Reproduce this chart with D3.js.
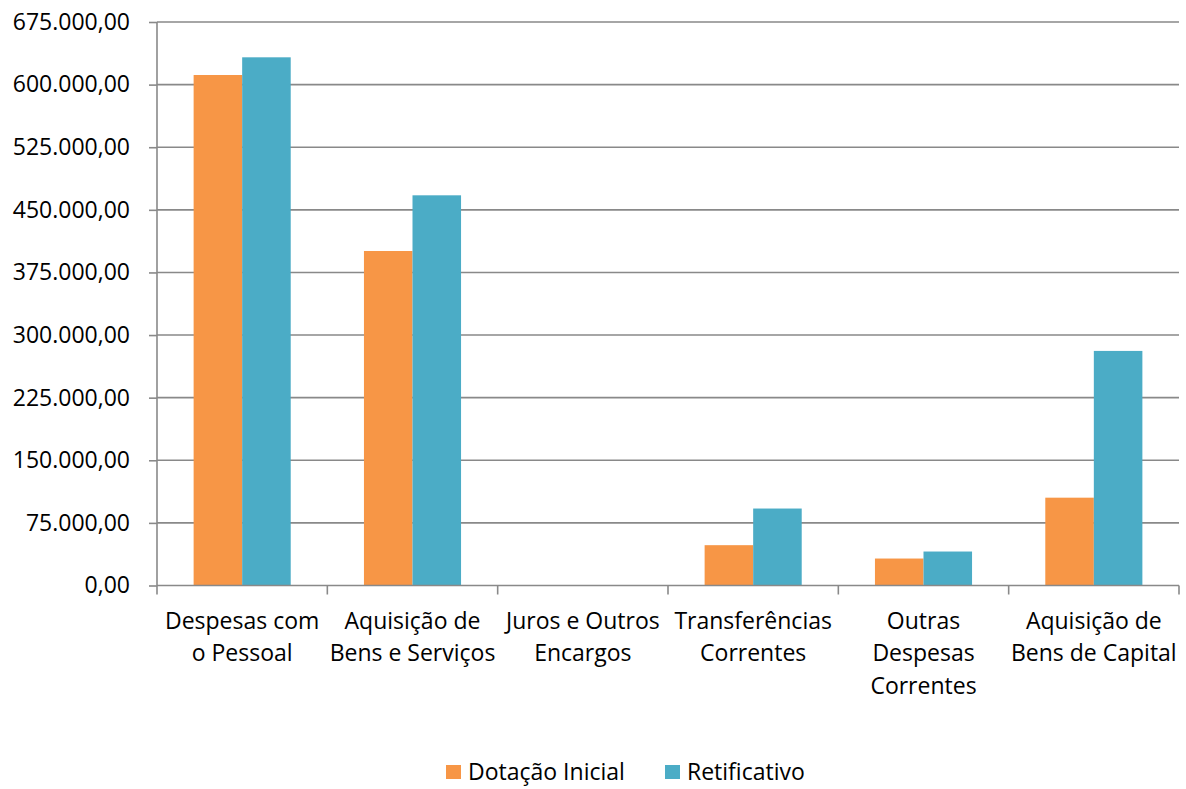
<!DOCTYPE html>
<html>
<head>
<meta charset="utf-8">
<script src="https://cdn.jsdelivr.net/npm/d3@7"></script>
<style>
body { margin: 0; background: #fff; }
text { font-family: "Open Sans", sans-serif; fill: #000; }
</style>
</head>
<body>
<svg id="svg0" width="1186" height="789"></svg>
<script>
var categories = ['Despesas com o Pessoal', 'Aquisição de Bens e Serviços', 'Juros e Outros Encargos',
  'Transferências Correntes', 'Outras Despesas Correntes', 'Aquisição de Bens de Capital'];
var series = ['Dotação Inicial', 'Retificativo'];
var dotacao = [611500, 400700, 0, 48300, 32300, 105200];
var retificativo = [632700, 467400, 0, 92200, 40700, 281000];
var y_ticks = [0, 75000, 150000, 225000, 300000, 375000, 450000, 525000, 600000, 675000];
var colors = ['#F79646', '#4BACC6'];

var svg0 = d3.select('#svg0');
var left = 157, right = 1179, top_y = 22, bottom_y = 585.5;
var grid_col = '#898989';
var font_size = 23;

var pt = d3.formatLocale({decimal: ',', thousands: '.', grouping: [3], currency: ['', '']});
var fmt = pt.format(',.2f');

var x0 = d3.scaleBand().domain(categories).range([left, right]).padding(0);
var x1 = d3.scaleBand().domain(series).range([x0.bandwidth()*0.215, x0.bandwidth()*0.785]).padding(0);
var y = d3.scaleLinear().domain([0, 675000]).range([bottom_y, top_y]);

// gridlines
svg0.append('g').selectAll('line').data(y_ticks.filter(d => d > 0)).enter().append('line')
  .attr('x1', left).attr('x2', right).attr('y1', d => y(d)).attr('y2', d => y(d))
  .attr('stroke', grid_col).attr('stroke-width', 1.6);

// bars
var rows = categories.map((c, i) => ({cat: c, vals: [dotacao[i], retificativo[i]]}));
var groups = svg0.append('g').selectAll('g').data(rows).enter().append('g')
  .attr('transform', d => 'translate(' + x0(d.cat) + ',0)');
groups.selectAll('rect').data(d => d.vals.map((v, j) => ({key: series[j], v: v, j: j}))).enter()
  .filter(d => d.v > 0)
  .append('rect')
  .attr('x', d => x1(d.key)).attr('width', x1.bandwidth())
  .attr('y', d => y(d.v)).attr('height', d => y(0) - y(d.v))
  .attr('fill', d => colors[d.j]);

// y axis
var yAxis = d3.axisLeft(y).tickValues(y_ticks).tickFormat(fmt).tickSize(8).tickPadding(19);
var yg = svg0.append('g').attr('transform', 'translate(' + left + ',0)').call(yAxis);
yg.select('.domain').attr('stroke', grid_col).attr('stroke-width', 1.6).attr('d', 'M0,' + top_y + 'V' + bottom_y);
yg.selectAll('.tick line').attr('stroke', grid_col).attr('stroke-width', 1.6);
yg.selectAll('.tick text').attr('font-size', font_size).attr('font-family', '"Open Sans", sans-serif').attr('fill', '#000');

// x axis
var xg = svg0.append('g').attr('transform', 'translate(0,' + bottom_y + ')');
xg.append('line').attr('x1', left).attr('x2', right).attr('stroke', grid_col).attr('stroke-width', 1.6);
var x_ticks = categories.map(c => x0(c)).concat([right]);
xg.selectAll('.xt').data(x_ticks).enter().append('line').attr('class', 'xt')
  .attr('x1', d => d).attr('x2', d => d).attr('y1', 0).attr('y2', 9)
  .attr('stroke', grid_col).attr('stroke-width', 1.6);

// wrapped category labels
var labels = xg.selectAll('.xl').data(categories).enter().append('text').attr('class', 'xl')
  .attr('text-anchor', 'middle').attr('font-size', font_size)
  .attr('transform', d => 'translate(' + (x0(d) + x0.bandwidth()/2) + ',0)');
labels.each(function(d) {
  var t = d3.select(this), words = d.split(' '), lines = [], line = [];
  var probe = t.append('tspan');
  words.forEach(w => {
    var trial = line.concat([w]).join(' ');
    probe.text(trial);
    if (line.length && probe.node().getComputedTextLength() > 169) { lines.push(line.join(' ')); line = [w]; }
    else line.push(w);
  });
  lines.push(line.join(' '));
  probe.remove();
  lines.forEach((l, k) => t.append('tspan').attr('x', 0).attr('y', 43 + k*32.5).text(l));
});

// legend
var legend = svg0.append('g');
var leg_x = [446, 665];
series.forEach((s, i) => {
  legend.append('rect').attr('x', leg_x[i]).attr('y', 765).attr('width', 15).attr('height', 14).attr('fill', colors[i]);
  legend.append('text').attr('x', leg_x[i] + 22).attr('y', 780).attr('font-size', font_size).text(s);
});
</script>
</body>
</html>
